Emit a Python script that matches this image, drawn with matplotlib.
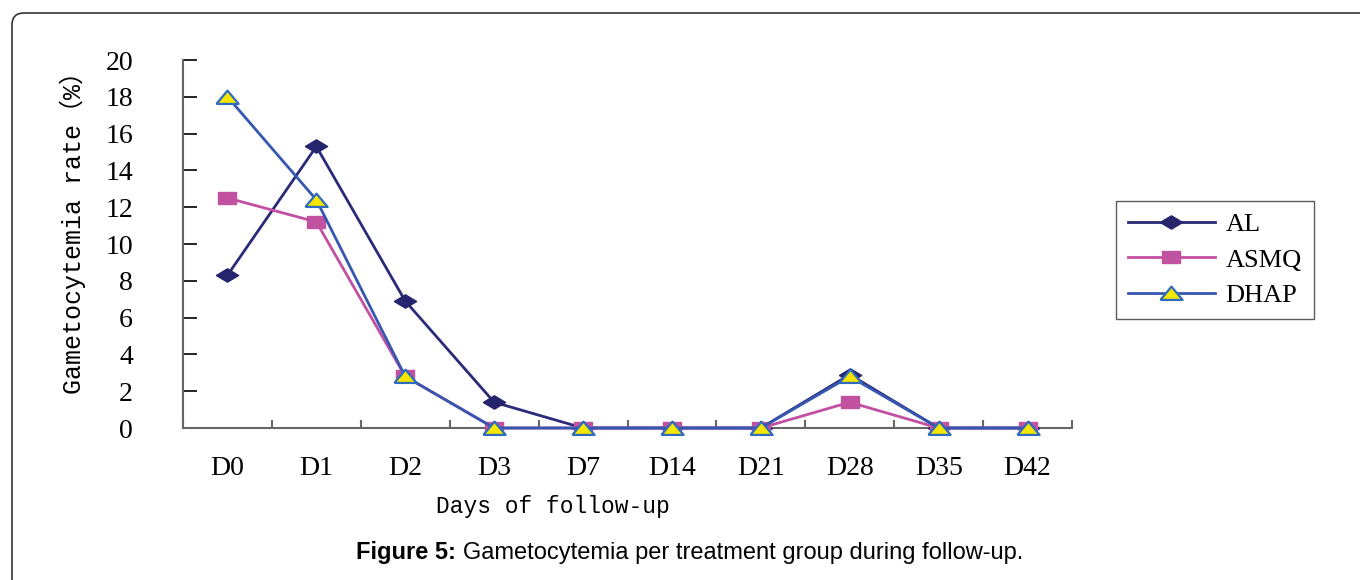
import matplotlib
matplotlib.use("Agg")
import matplotlib.pyplot as plt
import numpy as np
from matplotlib.patches import FancyBboxPatch
from matplotlib.path import Path

days = ["D0", "D1", "D2", "D3", "D7", "D14", "D21", "D28", "D35", "D42"]
al = [8.3, 15.3, 6.9, 1.4, 0, 0, 0, 2.9, 0, 0]
asmq = [12.5, 11.2, 2.8, 0, 0, 0, 0, 1.4, 0, 0]
dhap = [18.0, 12.4, 2.8, 0, 0, 0, 0, 2.8, 0, 0]

# marcatori schiacciati come nel grafico Excel
diamante = Path([(-1, 0), (0, 0.6), (1, 0), (0, -0.6), (-1, 0)])
rettangolo = Path([(-1, -0.68), (1, -0.68), (1, 0.68), (-1, 0.68), (-1, -0.68)])
triangolo = Path([(-1, -0.58), (1, -0.58), (0, 0.62), (-1, -0.58)])

fig = plt.figure(figsize=(13.6, 5.8), dpi=100)

# cornice arrotondata della figura
cornice = FancyBboxPatch((12, -60), 1420, 627, boxstyle="round,pad=0,rounding_size=12",
                         transform=None, fill=False, edgecolor="#333333", linewidth=1.2)
fig.patches.append(cornice)

ax = fig.add_axes([183 / 1360, 1 - 428 / 580, 889 / 1360, 368 / 580])
x = np.arange(len(days))

ax.plot(x, al, color="#2a2a78", lw=2, marker=diamante, markersize=16,
        markerfacecolor="#25256e", markeredgecolor="#25256e", label="AL", zorder=3)
ax.plot(x, asmq, color="#c24fa2", lw=2, marker=rettangolo, markersize=13.5,
        markerfacecolor="#c052a0", markeredgecolor="#c052a0", label="ASMQ", zorder=4)
ax.plot(x, dhap, color="#3557b0", lw=2, marker=triangolo, markersize=16,
        markerfacecolor="#f4e600", markeredgecolor="#2f6cc0", markeredgewidth=1.6,
        label="DHAP", zorder=5)

ax.set_xlim(-0.5, len(days) - 0.5)
ax.set_ylim(0, 20)
ax.set_yticks(np.arange(0, 21, 2))
ax.set_xticks(np.arange(-0.5, len(days), 1))
ax.set_xticklabels([])
ax.set_xticks(x, minor=True)
ax.set_xticklabels(days, minor=True, fontfamily="Liberation Serif", fontsize=20)
ax.tick_params(axis="x", which="minor", length=0, pad=20)
ax.tick_params(axis="x", which="major", direction="in", length=6, color="#666666", width=1.5)
ax.tick_params(axis="y", direction="in", length=10, color="black", width=1.2, pad=36)
for t in ax.get_yticklabels():
    t.set_fontfamily("Liberation Serif")
    t.set_fontsize(20)

for s in ["top", "right"]:
    ax.spines[s].set_visible(False)
ax.spines["left"].set_color("#666666")
ax.spines["bottom"].set_color("#666666")
ax.spines["left"].set_linewidth(1.5)
ax.spines["bottom"].set_linewidth(1.5)
for l in ax.lines:
    l.set_clip_on(False)

ax.set_xlabel("Days of follow-up", fontfamily=["Liberation Mono", "Noto Sans CJK SC"], fontsize=16.5)
ax.xaxis.set_label_coords((553 - 183) / 889, (428 - 506) / 368)
ax.xaxis.label.set_va("center")
ax.set_ylabel("Gametocytemia rate（%）", fontfamily=["Liberation Mono", "Noto Sans CJK SC"], fontsize=18)
ax.yaxis.set_label_coords((73 - 183) / 889, (428 - 227) / 368)
ax.yaxis.label.set_va("center")

leg = fig.legend(loc="upper left", bbox_to_anchor=(1116 / 1360, 1 - 201 / 580),
                 prop={"family": "Liberation Serif", "size": 19}, frameon=True, fancybox=False,
                 edgecolor="#333333", handlelength=3.3, handletextpad=0.4, borderpad=0.45,
                 labelspacing=0.45, borderaxespad=0)
leg.get_frame().set_linewidth(1.0)

fig.text(356 / 1360, 1 - 553 / 580, "Figure 5:", fontfamily="Liberation Sans",
         fontweight="bold", fontsize=17, va="center", ha="left")
fig.text(463 / 1360, 1 - 553 / 580, "Gametocytemia per treatment group during follow-up.",
         fontfamily="Liberation Sans", fontsize=17, va="center", ha="left")

fig.savefig("out.png", dpi=100)
